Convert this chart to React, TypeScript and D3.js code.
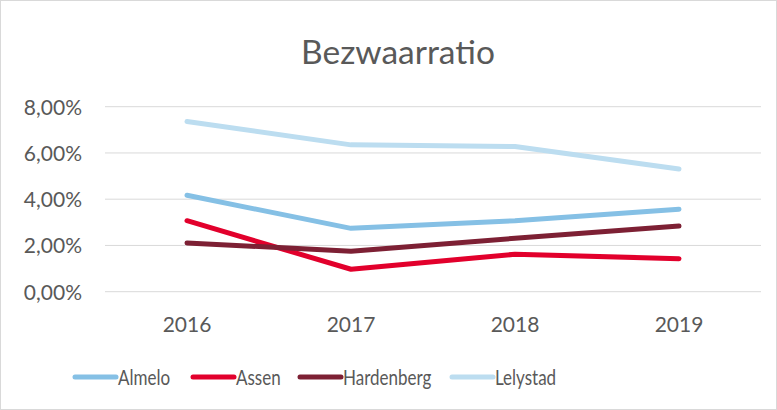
import React, { useEffect, useRef } from 'react';
import * as d3 from 'd3';

const years = ['2016', '2017', '2018', '2019'];
const seriesNames = ['Almelo', 'Assen', 'Hardenberg', 'Lelystad'];
const almelo = [4.17, 2.74, 3.07, 3.57];
const assen = [3.07, 0.97, 1.62, 1.43];
const hardenberg = [2.11, 1.75, 2.31, 2.84];
const lelystad = [7.36, 6.35, 6.28, 5.31];
const yTicks = [0, 2, 4, 6, 8];
const colors = ['#85C0E5', '#E2002C', '#7D2034', '#BCDDF0'];

const App: React.FC = () => {
    const svgRef = useRef<SVGSVGElement | null>(null);

    useEffect(() => {
        if (!svgRef.current) return;
        const svg = d3.select(svgRef.current);
        svg.selectAll('*').remove();
        const width = 777;
        const height = 410;
        const font = 'Lato, "Open Sans", sans-serif';
        const textColor = '#595959';

        // outer chart border
        svg.append('rect')
            .attr('x', 0.5).attr('y', 0.5)
            .attr('width', width - 1).attr('height', height - 1)
            .attr('fill', 'white').attr('stroke', '#D9D9D9');

        svg.append('text')
            .text('Bezwaarratio')
            .attr('x', 398).attr('y', 64)
            .attr('text-anchor', 'middle')
            .attr('font-family', font)
            .attr('font-size', 33.5)
            .attr('fill', textColor);

        const x = d3.scaleBand().domain(years).range([105, 761]);
        const y = d3.scaleLinear().domain([0, 8]).range([291.7, 106.7]);

        // gridlines + y labels
        svg.append('g').selectAll('line')
            .data(yTicks)
            .join('line')
            .attr('x1', 105).attr('x2', 761)
            .attr('y1', d => y(d)).attr('y2', d => y(d))
            .attr('stroke', '#D9D9D9').attr('stroke-width', 1);

        svg.append('g').selectAll('text')
            .data(yTicks)
            .join('text')
            .text(d => d3.format('.2f')(d).replace('.', ',') + '%')
            .attr('x', 82).attr('y', d => y(d) + 8)
            .attr('text-anchor', 'end')
            .attr('font-family', font).attr('font-size', 21)
            .attr('fill', textColor);

        svg.append('g').selectAll('text')
            .data(years)
            .join('text')
            .text(d => d)
            .attr('x', d => x(d)! + x.bandwidth() / 2).attr('y', 332)
            .attr('text-anchor', 'middle')
            .attr('font-family', font).attr('font-size', 21)
            .attr('fill', textColor);

        const allSeries = [almelo, assen, hardenberg, lelystad];
        const line = d3.line<number>()
            .x((_, i) => x(years[i])! + x.bandwidth() / 2)
            .y(d => y(d));

        svg.append('g').selectAll('path')
            .data(allSeries)
            .join('path')
            .attr('d', d => line(d))
            .attr('fill', 'none')
            .attr('stroke', (_, i) => colors[i])
            .attr('stroke-width', 5)
            .attr('stroke-linecap', 'round')
            .attr('stroke-linejoin', 'round');

        // legend (text is narrow in the original, so squeeze it a bit)
        const legendX = [75, 193, 300, 452];
        const legend = svg.append('g').selectAll('g')
            .data(seriesNames)
            .join('g')
            .attr('transform', (_, i) => `translate(${legendX[i]},377)`);
        legend.append('line')
            .attr('x1', 0).attr('x2', 41)
            .attr('stroke', (_, i) => colors[i])
            .attr('stroke-width', 5)
            .attr('stroke-linecap', 'round');
        legend.append('text')
            .text(d => d)
            .attr('transform', 'translate(43,7.5) scale(0.81,1)')
            .attr('font-family', font).attr('font-size', 21)
            .attr('fill', textColor);
    }, []);

    return (
        <svg ref={svgRef} width={777} height={410}
            style={{ position: 'absolute', left: 0, top: 0 }} />
    );
};

export default App;
